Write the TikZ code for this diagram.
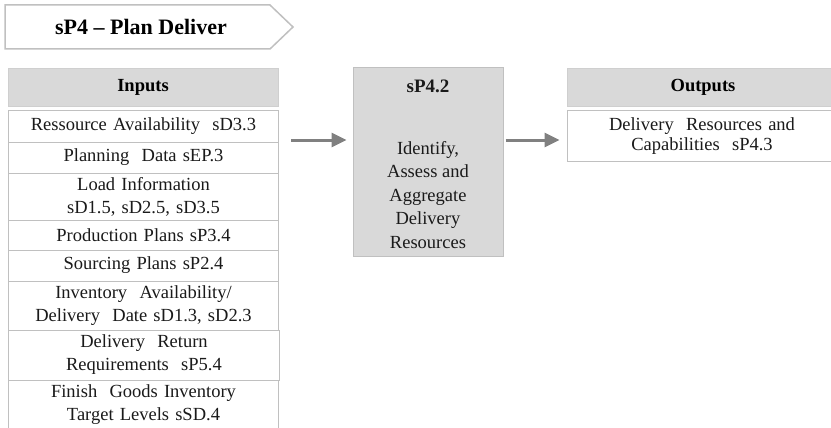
\documentclass[tikz,border=0pt]{standalone}
\usepackage{fontspec}
\setmainfont{Liberation Serif}
\newcommand\fsz{18.5}\newcommand\tsz{22}
\usetikzlibrary{arrows.meta}
\definecolor{boxgray}{HTML}{C0C0C0}
\definecolor{headfill}{HTML}{D9D9D9}
\definecolor{headline}{HTML}{CFCFCF}
\definecolor{arrgray}{HTML}{808080}
\definecolor{txtcol}{HTML}{1A1A1A}
\tikzset{
  inbox/.style={draw=boxgray, line width=1pt, fill=white, minimum width=270.5pt, text width=262pt, align=center, inner sep=0pt, text=txtcol, font=\fontsize{\fsz}{23}\selectfont},
  headbox/.style={draw=headline, line width=0.8pt, fill=headfill, minimum height=38pt, inner sep=0pt, font=\fontsize{\fsz}{22}\selectfont\bfseries},
  procbox/.style={draw=boxgray, line width=1pt, fill=headfill, minimum width=150pt, minimum height=188pt, inner sep=0pt},
  arr/.style={draw=arrgray, line width=3pt, -{Triangle[length=15pt,width=14pt]}},
  txt/.style={inner sep=0pt, align=center, text=txtcol, font=\fontsize{\fsz}{23.5}\selectfont}
}
\begin{document}
\begin{tikzpicture}[x=1pt,y=-1pt]
\useasboundingbox (0,0) rectangle (831,428);
% title
\draw[draw=boxgray, line width=1.5pt, fill=white] (5,5) -- (270,5) -- (293,27) -- (270,49) -- (5,49) -- cycle;
\node[inner sep=0pt, font=\fontsize{\tsz}{24}\selectfont\bfseries] (title) at (141,27) {sP4 -- Plan Deliver};
% inputs
\node[headbox, minimum width=270pt] (inh) at (143,87) {Inputs};
\node[inbox, minimum height=31pt] (i1) at (143.5,126.5) {Ressource Availability~~sD3.3};
\node[inbox, minimum height=31pt] (i2) at (143.5,157.5) {Planning~ Data sEP.3};
\node[inbox, minimum height=47pt] (i3) at (143.5,196.5) {Load Information\\sD1.5, sD2.5, sD3.5};
\node[inbox, minimum height=30pt] (i4) at (143.5,235) {Production Plans sP3.4};
\node[inbox, minimum height=31pt] (i5) at (143.5,265.5) {Sourcing Plans sP2.4};
\node[inbox, minimum height=49pt] (i6) at (143.5,305.5) {Inventory~ Availability/\\Delivery~ Date sD1.3, sD2.3};
\node[inbox, minimum height=50pt] (i7) at (144,355) {Delivery~ Return\\Requirements~ sP5.4};
\node[inbox, minimum height=50pt] (i8) at (143.5,405) {Finish~ Goods Inventory\\Target Levels sSD.4};
% process
\node[procbox] (proc) at (428,162) {};
\node[txt, font=\fontsize{19}{22}\selectfont\bfseries] (procid) at (428,86) {sP4.2};
\node[txt] (proctext) at (428,195) {Identify,\\Assess and\\Aggregate\\Delivery\\Resources};
% outputs
\node[headbox, minimum width=272pt] (outh) at (703,87) {Outputs};
\node[inbox, minimum width=270pt, minimum height=50pt, text width=256pt, font=\fontsize{\fsz}{20.5}\selectfont] (outb) at (702,136) {Delivery~ Resources and\\Capabilities~ sP4.3};
% arrows
\coordinate (a1s) at (291,140);
\draw[arr, shorten >=6pt] (a1s) -- (proc.west |- a1s);
\draw[arr, shorten <=2pt, shorten >=7pt] (proc.east |- a1s) -- (outb.west |- a1s);
\end{tikzpicture}
\end{document}
